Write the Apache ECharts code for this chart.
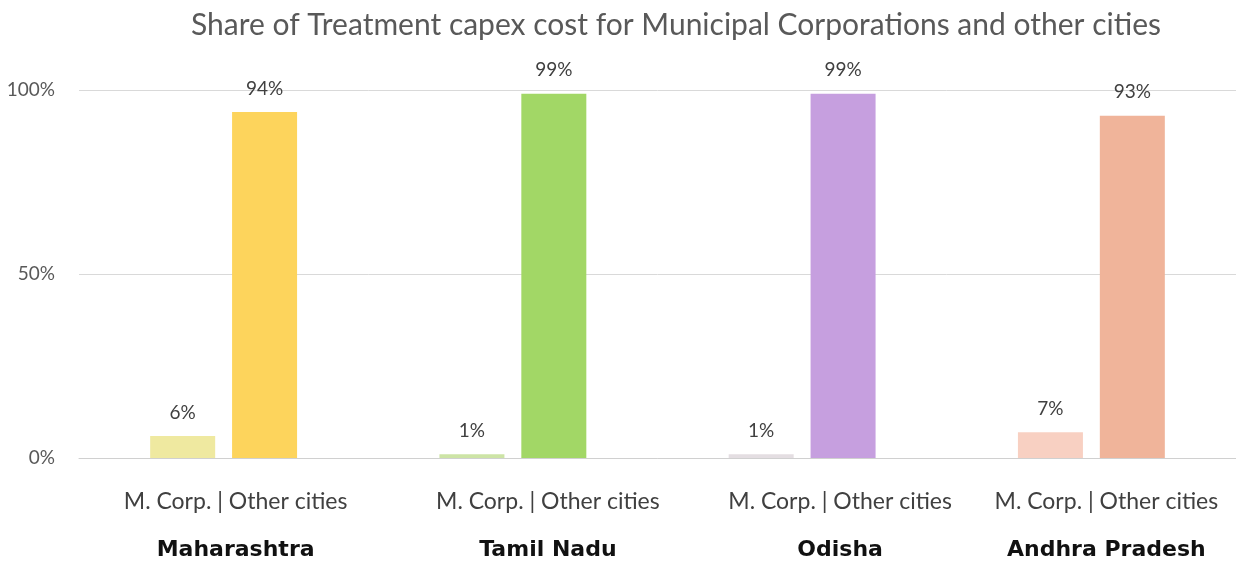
<!DOCTYPE html>
<html>
<head>
<meta charset="utf-8">
<script src="https://cdn.jsdelivr.net/npm/echarts@6/dist/echarts.min.js"></script>
<style>
  html, body { margin: 0; padding: 0; background: #fff; }
  #chart { width: 1236px; height: 565px; }
</style>
</head>
<body>
<div id="chart"></div>
<script>
var states = ['Maharashtra', 'Tamil Nadu', 'Odisha', 'Andhra Pradesh'];
var corpShare = [6, 1, 1, 7];
var otherShare = [94, 99, 99, 93];
var corpColors = ['#efe9a0', '#cde4a6', '#e4dee2', '#f8d0c2'];
var otherColors = ['#fdd45c', '#a2d766', '#c69fdf', '#f0b49a'];
var yTicks = ['0%', '50%', '100%'];
// the category captions sit a bit to the right of their bars in the original
var captionShift = [12, 35, 38, 15];

var myChart = echarts.init(document.getElementById('chart'));

function colored(vals, colors) {
    return vals.map(function (v, i) {
        return { value: v, itemStyle: { color: colors[i] } };
    });
}

var labelStyle = {
    show: true,
    position: 'top',
    distance: 14,
    formatter: '{c}%',
    color: '#404040',
    fontSize: 19,
    fontFamily: 'Lato'
};

myChart.setOption({
    animation: false,
    title: {
        text: 'Share of Treatment capex cost for Municipal Corporations and other cities',
        left: 186,
        top: 5,
        textStyle: { color: '#595959', fontSize: 30, fontWeight: 'normal', fontFamily: 'Lato' }
    },
    grid: { left: 79, right: 0, top: 90, bottom: 107 },
    xAxis: {
        type: 'category',
        data: states.map(function (s, i) {
            return { value: s, textStyle: { padding: [0, 0, 0, captionShift[i] * 2] } };
        }),
        axisLine: { lineStyle: { color: '#d0d0d0' } },
        axisTick: { show: false },
        axisLabel: {
            margin: 20,
            formatter: function (v) { return '{a|M. Corp. | Other cities}\n{b|' + v + '}'; },
            rich: {
                a: { fontSize: 23, color: '#404040', lineHeight: 48, fontFamily: 'Lato' },
                b: { fontSize: 22, color: '#111', fontWeight: 'bold', lineHeight: 48, fontFamily: 'DejaVu Sans' }
            }
        }
    },
    yAxis: {
        type: 'value',
        min: 0,
        max: 100,
        interval: 50,
        axisLabel: {
            margin: 24,
            color: '#595959',
            fontSize: 19,
            fontFamily: 'Lato',
            formatter: function (v) { return yTicks[v / 50]; }
        },
        splitLine: { lineStyle: { color: '#d9d9d9' } }
    },
    series: [
        {
            name: 'M. Corp.',
            type: 'bar',
            barWidth: 65,
            barGap: '26%',
            data: colored(corpShare, corpColors),
            label: labelStyle
        },
        {
            name: 'Other cities',
            type: 'bar',
            barWidth: 65,
            barGap: '26%',
            data: colored(otherShare, otherColors),
            label: labelStyle
        }
    ]
});
</script>
</body>
</html>
